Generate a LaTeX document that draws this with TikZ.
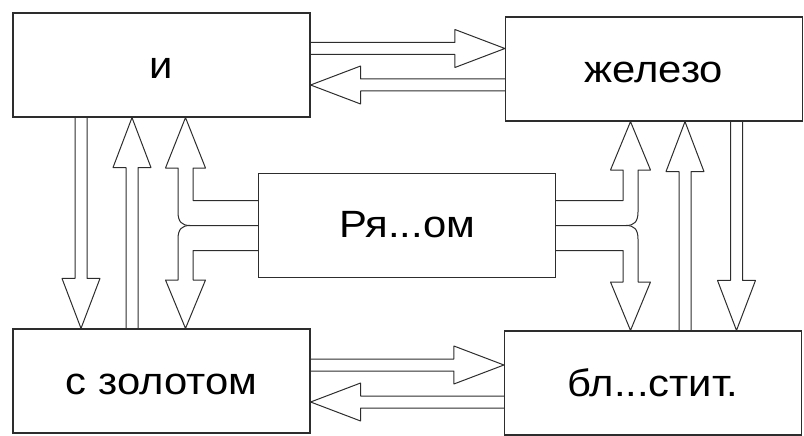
\documentclass[tikz,border=0pt]{standalone}
\usepackage{fontspec}
\setmainfont{Liberation Sans}[FakeStretch=1.1]
\usetikzlibrary{calc}
\definecolor{ink}{RGB}{45,45,45}

\newcommand{\blockarrow}[2]{%
  \coordinate (hb) at ($(#2)!50pt!(#1)$);
  \draw[arr] ($(#1)!6pt!90:(#2)$) -- ($(hb)!6pt!90:(#2)$)
    -- ($(hb)!19pt!90:(#2)$) -- (#2) -- ($(hb)!19pt!-90:(#2)$)
    -- ($(hb)!6pt!-90:(#2)$) -- ($(#1)!6pt!-90:(#2)$);}

\begin{document}
\begin{tikzpicture}[x=1pt, y=-1pt,
            box/.style={draw=ink, line width=1.2pt, minimum width=297pt,
              minimum height=104pt, inner sep=0pt, text height=27pt,
              text depth=0pt, font=\fontsize{38}{44}\selectfont},
            arr/.style={draw=ink, line width=1pt, line join=round}]
          \useasboundingbox (0,0) rectangle (804,436);
          \node[box] (ii) at (161.5,65) {и};
          \node[box] (iron) at (654,69) {железо};
          \node[box] (gold) at (161.5,381) {с золотом};
          \node[box] (shine) at (653,383) {бл...стит.};
          \node[box, text height=23pt] (near) at (407,225.5) {Ря...ом};
          \blockarrow{ii.east |- 0,48.5}{iron.west |- 0,48.5}
          \blockarrow{iron.west |- 0,85}{ii.east |- 0,85}
          \blockarrow{gold.east |- 0,365}{shine.west |- 0,365}
          \blockarrow{shine.west |- 0,402}{gold.east |- 0,402}
          \blockarrow{81,0 |- ii.south}{81,0 |- gold.north}
          \blockarrow{132,0 |- gold.north}{132,0 |- ii.south}
          \blockarrow{685,0 |- shine.north}{685,0 |- iron.south}
          \blockarrow{736.5,0 |- iron.south}{736.5,0 |- shine.north}
          \draw[arr] (near.west |- 0,200.5) -- (193,200.5) -- (193,168)
            -- (205.5,168) -- (185.5,0 |- ii.south) -- (165.5,168) -- (178,168)
            -- (178,212) .. controls (178,222) and (182,225.5) .. (190,225.5)
            -- (near.west |- 0,225.5);
          \draw[arr] (190,225.5) .. controls (182,225.5) and (178,229) .. (178,239)
            -- (178,280) -- (165.5,280) -- (185.5,0 |- gold.north) -- (205.5,280)
            -- (193,280) -- (193,250.5) -- (near.west |- 0,250.5);
          \draw[arr] (near.east |- 0,200.5) -- (623,200.5) -- (623,170)
            -- (610.5,170) -- (630.5,0 |- iron.south) -- (650.5,170) -- (638,170)
            -- (638,212) .. controls (638,222) and (634,225.5) .. (626,225.5)
            -- (near.east |- 0,225.5);
          \draw[arr] (626,225.5) .. controls (634,225.5) and (638,229) .. (638,239)
            -- (638,282) -- (650.5,282) -- (630.5,0 |- shine.north) -- (610.5,282)
            -- (623,282) -- (623,250.5) -- (near.east |- 0,250.5);
        \end{tikzpicture}
\end{document}
